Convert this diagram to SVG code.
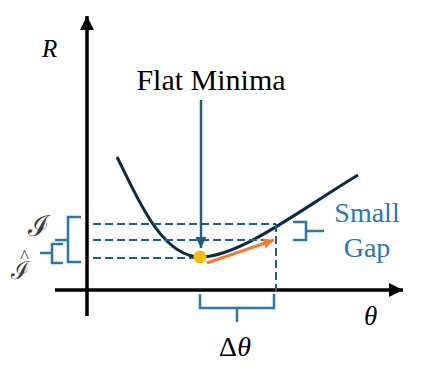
<svg xmlns="http://www.w3.org/2000/svg" width="429" height="372" viewBox="0 0 429 372">
<style>
.axis{stroke:#000;stroke-width:3.5;fill:none}
.dash{stroke:#1F5F80;stroke-width:2;stroke-dasharray:8,4;fill:none}
.brace{stroke:#2A78A8;stroke-width:2.5;fill:none}
text{font-family:'Liberation Serif','Times New Roman',serif}
.scr{font-family:'DejaVu Serif',serif;fill:#3a3a3a}
</style>
<defs>
<marker id="ah" viewBox="0 0 10 10" refX="10" refY="5" markerWidth="4" markerHeight="4" orient="auto" markerUnits="strokeWidth"><path d="M0,0L10,5L0,10z" fill="#000"/></marker>
<marker id="ahTeal" viewBox="0 0 10 10" refX="10" refY="5" markerWidth="4.5" markerHeight="4.5" orient="auto" markerUnits="strokeWidth"><path d="M0,0L10,5L0,10z" fill="#1F5F80"/></marker>
<marker id="ahOr" viewBox="0 0 10 10" refX="10" refY="5" markerWidth="3.5" markerHeight="3.5" orient="auto" markerUnits="strokeWidth"><path d="M0,0L10,5L0,10z" fill="#ED7D31"/></marker>
</defs>
<g id="axes">
<line class="axis" x1="87" y1="316" x2="87" y2="16" marker-end="url(#ah)"/>
<line class="axis" x1="55" y1="290" x2="403" y2="290" marker-end="url(#ah)"/>
<text x="42" y="57" font-size="25" font-style="italic">R</text>
<text x="364" y="325" font-size="27" font-style="italic">θ</text>
</g>
<g id="curve">
<path d="M117,157 C135,192 160,257 200,257 C240,257 300,210 358,175" stroke="#0D2B45" stroke-width="3" fill="none"/>
</g>
<g id="connectors">
<line class="dash" x1="93" y1="224" x2="276" y2="224"/>
<line class="dash" x1="93" y1="240" x2="268" y2="240"/>
<line class="dash" x1="93" y1="258" x2="194" y2="258"/>
<line class="dash" x1="276" y1="224" x2="276" y2="296"/>
<line x1="201" y1="100" x2="201" y2="248" stroke="#1F5F80" stroke-width="2.5" marker-end="url(#ahTeal)"/>
<line x1="207" y1="263" x2="274" y2="240" stroke="#ED7D31" stroke-width="3" marker-end="url(#ahOr)"/>
</g>
<g id="minimum">
<circle cx="200" cy="257" r="6.5" fill="#FFC000"/>
</g>
<g id="flat-minima">
<text x="211" y="90" font-size="30" text-anchor="middle">Flat Minima</text>
</g>
<g id="small-gap">
<path class="brace" d="M293,222 H306 V240 H293 M306,231 H324"/>
<text x="367" y="222" font-size="28" fill="#2E75B6" text-anchor="middle">Small</text>
<text x="367" y="257" font-size="28" fill="#2E75B6" text-anchor="middle">Gap</text>
</g>
<g id="delta-theta">
<path class="brace" d="M200,294 V308 H274 V294 M237,308 V322"/>
<text x="235" y="356" font-size="28" text-anchor="middle">Δ<tspan font-style="italic">θ</tspan></text>
</g>
<g id="I-labels">
<path class="brace" d="M81,217 H68 V262 H81 M68,240 H55"/>
<path class="brace" d="M63,244 H52 V263 H63 M52,253 H40"/>
<text class="scr" x="39" y="236" font-size="29" text-anchor="middle">ℐ</text>
<text class="scr" x="11" y="279" font-size="25">ℐ<tspan font-family="Liberation Serif" font-size="19" dx="-10" dy="-16">^</tspan></text>
</g>
</svg>
